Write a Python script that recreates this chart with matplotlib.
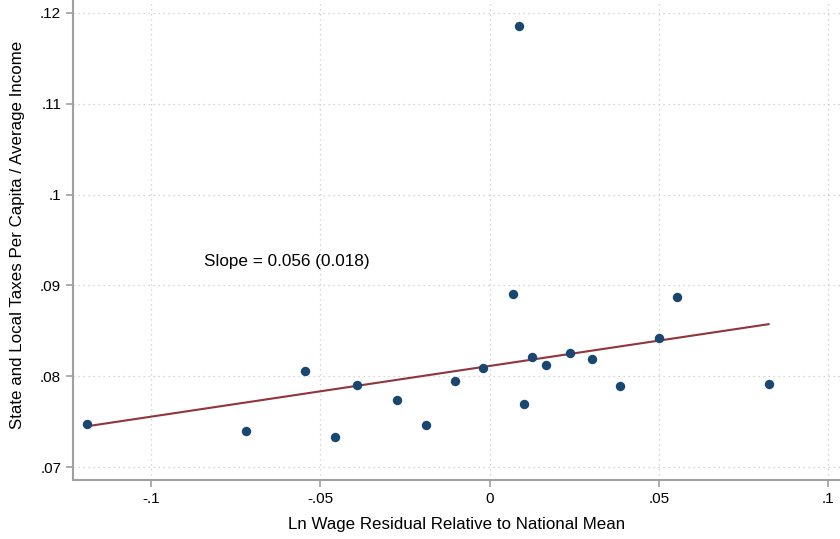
import numpy as np
import matplotlib
matplotlib.use("Agg")
import matplotlib.pyplot as plt

plt.rcParams['font.family'] = ['Liberation Sans', 'DejaVu Sans']

# Data
wage_resid = [-0.1191, -0.0719, -0.0545, -0.0456, -0.0393, -0.0275, -0.0187, -0.0102,
              -0.0020, 0.0068, 0.0088, 0.0101, 0.0125, 0.0166, 0.0236, 0.0303,
              0.0385, 0.0500, 0.0554, 0.0824]
tax_share = [0.07474, 0.07396, 0.08055, 0.07330, 0.07900, 0.07736, 0.07463, 0.07950,
             0.08090, 0.08906, 0.11857, 0.07694, 0.08211, 0.08127, 0.08251, 0.08189,
             0.07892, 0.08416, 0.08873, 0.07917]
fit_x = [-0.1191, 0.0824]
fit_y = [0.07448, 0.08573]

x_ticks = [-0.1, -0.05, 0, 0.05, 0.1]
x_tick_labels = ["-.1", "-.05", "0", ".05", ".1"]
y_ticks = [0.07, 0.08, 0.09, 0.10, 0.11, 0.12]
y_tick_labels = [".07", ".08", ".09", ".1", ".11", ".12"]

fig = plt.figure(figsize=(8.4, 5.39), dpi=100)
ax = fig.add_axes([73/840, 59/539, 767/840, 480/539])

ax.scatter(wage_resid, tax_share, s=46, color='#1a476f', zorder=3, linewidths=0)
ax.plot(fit_x, fit_y, color='#90353b', lw=1.5, zorder=2)

ax.set_xlim(-0.1231, 0.1035)
ax.set_ylim(0.06857, 0.12143)
ax.set_xticks(x_ticks)
ax.set_xticklabels(x_tick_labels)
ax.set_yticks(y_ticks)
ax.set_yticklabels(y_tick_labels)

ax.grid(True, linestyle=(0, (1, 3)), color='#c8c8c8', lw=0.9)
ax.set_axisbelow(True)
for s in ['top', 'right']:
    ax.spines[s].set_visible(False)
for s in ['left', 'bottom']:
    ax.spines[s].set_color('#a0a0a0')
    ax.spines[s].set_linewidth(1.5)
ax.tick_params(axis='both', colors='#a0a0a0', labelcolor='black', length=5, width=1.2,
               labelsize=11)

ax.set_xlabel("Ln Wage Residual Relative to National Mean", fontsize=12.2, labelpad=8)
ax.set_ylabel("State and Local Taxes Per Capita / Average Income", fontsize=12.2, labelpad=8)
ax.yaxis.set_label_coords(-0.062, 0.51)

ax.text(-0.0598, 0.0926, "Slope = 0.056 (0.018)", fontsize=12.3, ha='center', va='center')

fig.savefig("out.png", dpi=100)
